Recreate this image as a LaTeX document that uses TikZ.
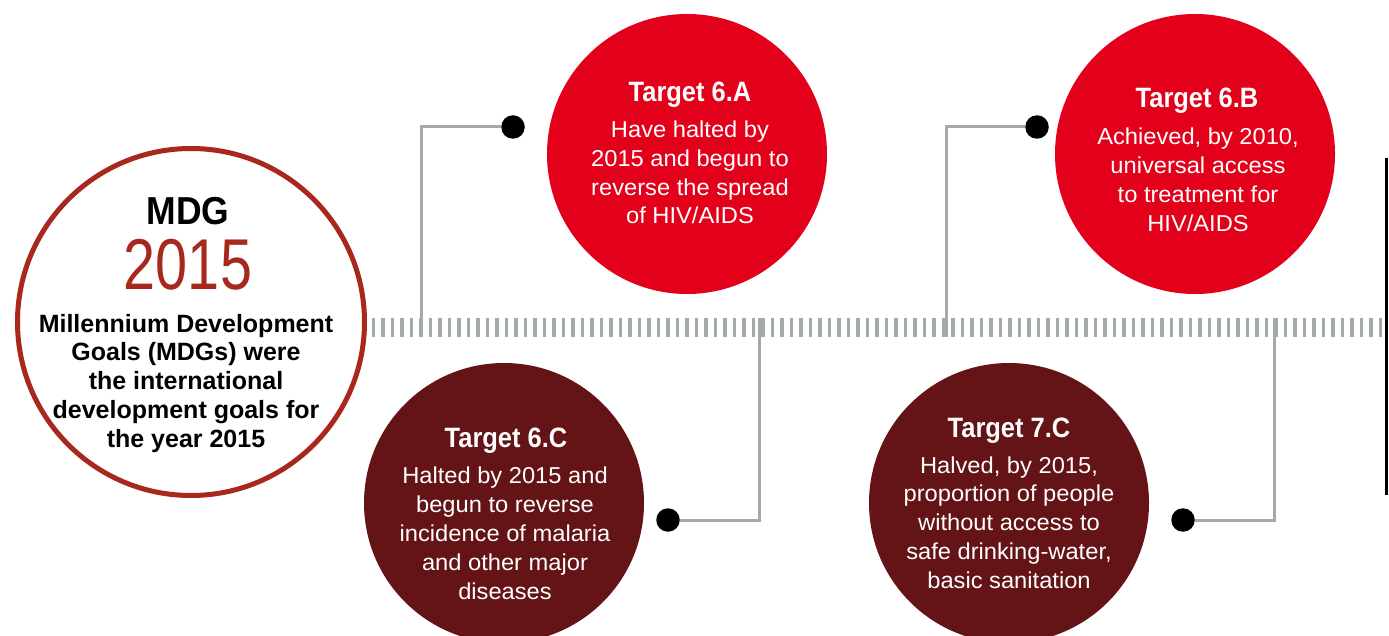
\documentclass[tikz,border=0pt]{standalone}
\usepackage{fontspec}
\setmainfont{Liberation Sans}
\newfontfamily\fA[FakeStretch=0.91]{Liberation Sans}
\newfontfamily\fY[FakeStretch=0.80]{Liberation Sans}
\newfontfamily\fB[FakeStretch=1.03]{Liberation Sans}
\definecolor{mdgred}{HTML}{A8281E}
\definecolor{brightred}{HTML}{E2001A}
\definecolor{darkred}{HTML}{641416}
\definecolor{linegray}{HTML}{A3AAAA}
\tikzset{
  bigdisc/.style={circle, inner sep=0, minimum size=280pt, draw=none},
  reddisc/.style={bigdisc, fill=brightred},
  darkdisc/.style={bigdisc, fill=darkred},
  dotnode/.style={circle, fill=black, inner sep=0, minimum size=23.5pt},
  conn/.style={draw=linegray, line width=3pt},
  ttl/.style={anchor=base, inner sep=0, text=white, font=\fA\bfseries\fontsize{28}{28}\selectfont},
  bod/.style={anchor=base, inner sep=0, text=white, font=\fB\fontsize{23}{23}\selectfont},
  mdgbod/.style={anchor=base, inner sep=0, text=black, font=\bfseries\fontsize{25}{25}\selectfont},
}
\begin{document}
\begin{tikzpicture}[x=1pt,y=-1pt]
\useasboundingbox (0,0) rectangle (1389,636);
\fill[white] (0,0) rectangle (1389,636);

% tick timeline
\coordinate (tlS) at (371.7,327.5);
\coordinate (tlE) at (1385,327.5);
\draw[draw=linegray, line width=19pt, dash pattern=on 3.3pt off 6.2pt] (tlS) -- (tlE);

% right black bar
\coordinate (barT) at (1386,158);
\coordinate (barB) at (1386,495);
\draw[line width=3pt] (barT) -- (barB);

% MDG circle
\node[circle, draw=mdgred, line width=5pt, fill=white, inner sep=0, minimum size=347pt] (mdg) at (191,322) {};
\node[anchor=base, inner sep=0, font=\fA\bfseries\fontsize{39}{39}\selectfont] (mdgt) at (188,225) {MDG};
\node[anchor=base, inner sep=0, text=mdgred, font=\fY\fontsize{72}{72}\selectfont] (mdgy) at (188,290) {2015};
\foreach \t [count=\i] in {Millennium Development, Goals (MDGs) were, the international, development goals for, the year 2015}
  \node[mdgbod] (m\i) at (186,{332+28.75*(\i-1)}) {\t};

% Discs
\node[reddisc] (A) at (687,154) {};
\node[reddisc] (B) at (1195,154) {};
\node[darkdisc] (C) at (504,503) {};
\node[darkdisc] (D) at (1009,503) {};

% Texts 6.A
\node[ttl] (At) at (690,102) {Target 6.A};
\foreach \t [count=\i] in {Have halted by, 2015 and begun to, reverse the spread, of HIV/AIDS}
  \node[bod] (a\i) at (690,{138+28.6*(\i-1)}) {\t};
% Texts 6.B
\node[ttl] (Bt) at (1197,108) {Target 6.B};
\foreach \t [count=\i] in {{Achieved, by 2010,}, universal access, to treatment for, HIV/AIDS}
  \node[bod] (b\i) at (1198,{145+29*(\i-1)}) {\t};
% Texts 6.C
\node[ttl] (Ct) at (506,447) {Target 6.C};
\foreach \t [count=\i] in {Halted by 2015 and, begun to reverse, incidence of malaria, and other major, diseases}
  \node[bod] (c\i) at (505,{483+29*(\i-1)}) {\t};
% Texts 7.C
\node[ttl] (Dt) at (1009,437) {Target 7.C};
\foreach \t [count=\i] in {{Halved, by 2015,}, proportion of people, without access to, {safe drinking-water,}, basic sanitation}
  \node[bod] (d\i) at (1009,{473+28.75*(\i-1)}) {\t};

% connectors
\coordinate (tA) at (421,337);
\coordinate (tB) at (946,337);
\coordinate (tC) at (759,318);
\coordinate (tD) at (1274,318);
\node[dotnode] (dA) at (513,127) {};
\node[dotnode] (dB) at (1037,127) {};
\node[dotnode] (dC) at (668,520) {};
\node[dotnode] (dD) at (1183,520) {};
\draw[conn] (tA) |- (dA);
\draw[conn] (tB) |- (dB);
\draw[conn] (tC) |- (dC);
\draw[conn] (tD) |- (dD);
\end{tikzpicture}
\end{document}
